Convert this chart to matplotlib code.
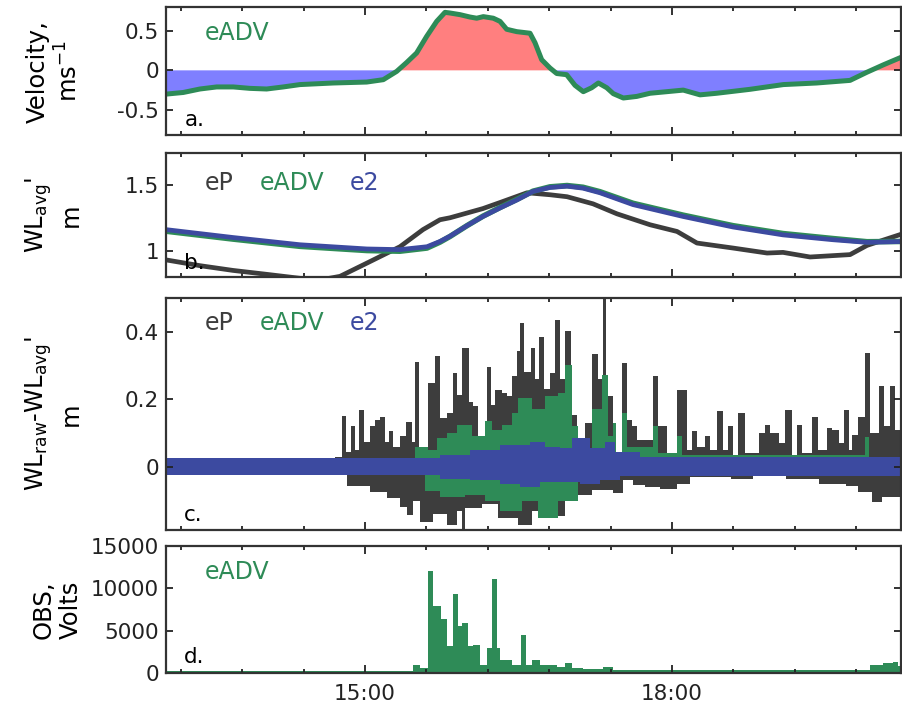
import numpy as np
import matplotlib
matplotlib.use("Agg")
import matplotlib.pyplot as plt
from matplotlib.ticker import FixedLocator, FuncFormatter

plt.rcParams['font.family'] = ['DejaVu Sans']
plt.rcParams['axes.unicode_minus'] = False

# ── colours ──────────────────────────────────────────────────────────────────
C_EP = '#3d3d3d'
C_ADV = '#2e8b57'
C_E2 = '#3c4aa0'
C_POS = '#ff7f7f'
C_NEG = '#7f7fff'

T_START, T_END = 13.055, 20.24   # hours of day

# ── a. velocity (eADV) ───────────────────────────────────────────────────────
vel_t = [13.062, 13.224, 13.387, 13.550, 13.713, 13.876, 14.039, 14.201, 14.365,
         14.690, 15.017, 15.179, 15.310, 15.408, 15.505, 15.603, 15.701, 15.782,
         15.831, 15.929, 16.026, 16.092, 16.157, 16.254, 16.320, 16.385, 16.483,
         16.613, 16.662, 16.727, 16.808, 16.874, 16.971, 17.053, 17.134, 17.216,
         17.281, 17.363, 17.427, 17.525, 17.656, 17.786, 17.949, 18.111, 18.275,
         18.438, 18.763, 19.089, 19.415, 19.741, 19.904, 20.067, 20.249]
vel_v = [-0.30, -0.28, -0.236, -0.21, -0.21, -0.228, -0.236, -0.21, -0.18,
         -0.16, -0.148, -0.118, -0.013, 0.10, 0.22, 0.43, 0.62, 0.734,
         0.726, 0.705, 0.675, 0.66, 0.68, 0.66, 0.62, 0.52, 0.49,
         0.47, 0.35, 0.135, 0.03, -0.04, -0.055, -0.19, -0.27, -0.22,
         -0.16, -0.22, -0.295, -0.35, -0.33, -0.29, -0.27, -0.25, -0.31,
         -0.29, -0.24, -0.18, -0.16, -0.127, -0.025, 0.07, 0.17]

# ── b. averaged water level ──────────────────────────────────────────────────
wl_t_e2 = [13.055, 13.710, 14.365, 15.020, 15.342, 15.606, 15.733, 15.831, 15.997,
           16.153, 16.320, 16.486, 16.642, 16.808, 16.975, 17.131, 17.297, 17.620,
           18.109, 18.597, 19.086, 19.575, 19.907, 20.249]
wl_e2 = [1.16, 1.10, 1.045, 1.013, 1.008, 1.03, 1.07, 1.11, 1.19,
         1.26, 1.325, 1.386, 1.45, 1.48, 1.49, 1.475, 1.44, 1.35,
         1.26, 1.18, 1.12, 1.083, 1.063, 1.07]
wl_adv = [1.148, 1.088, 1.033, 1.001, 0.996, 1.02, 1.065, 1.108, 1.19,
          1.262, 1.328, 1.39, 1.452, 1.485, 1.495, 1.482, 1.448, 1.36,
          1.27, 1.19, 1.13, 1.092, 1.068, 1.07]
wl_t_ep = [13.055, 13.387, 13.710, 14.042, 14.365, 14.580, 14.756, 15.020, 15.342,
           15.567, 15.733, 15.831, 16.153, 16.320, 16.584, 16.808, 16.975, 17.229,
           17.463, 17.786, 18.050, 18.245, 18.597, 18.930, 19.086, 19.350, 19.741,
           19.907, 20.249]
wl_ep = [0.93, 0.886, 0.85, 0.82, 0.79, 0.78, 0.805, 0.906, 1.03,
         1.16, 1.235, 1.25, 1.32, 1.366, 1.44, 1.425, 1.41, 1.356,
         1.28, 1.197, 1.146, 1.058, 1.02, 0.982, 0.987, 0.952, 0.97,
         1.04, 1.127]

# ── c. WL_raw - WL_avg envelopes (step start times, values) ─────────────────
ep_up_t = [13.055, 14.707, 14.775, 14.814, 14.863, 14.902, 14.941, 14.990, 15.049,
           15.098, 15.147, 15.196, 15.235, 15.274, 15.342, 15.401, 15.459, 15.489,
           15.528, 15.616, 15.684, 15.733, 15.802, 15.860, 15.899, 15.948, 16.017,
           16.056, 16.105, 16.193, 16.232, 16.271, 16.339, 16.388, 16.437, 16.486,
           16.515, 16.554, 16.623, 16.662, 16.701, 16.750, 16.808, 16.857, 16.906,
           16.955, 17.014, 17.072, 17.151, 17.219, 17.278, 17.326, 17.355, 17.424,
           17.512, 17.561, 17.610, 17.659, 17.815, 17.864, 17.952, 18.050, 18.148,
           18.196, 18.245, 18.324, 18.372, 18.441, 18.500, 18.548, 18.597, 18.646,
           18.714, 18.851, 18.910, 18.959, 19.047, 19.106, 19.174, 19.223, 19.272,
           19.370, 19.428, 19.516, 19.565, 19.633, 19.682, 19.731, 19.761, 19.819,
           19.888, 19.936, 20.024, 20.073, 20.132, 20.181]
ep_up = [0.012, 0.03, 0.152, 0.045, 0.122, 0.05, 0.169, 0.075, 0.12,
         0.139, 0.149, 0.075, 0.107, 0.06, 0.09, 0.134, 0.075, 0.312,
         0.06, 0.248, 0.327, 0.144, 0.159, 0.278, 0.213, 0.352, 0.193,
         0.18, 0.086, 0.297, 0.184, 0.228, 0.22, 0.21, 0.268, 0.342,
         0.426, 0.282, 0.352, 0.26, 0.386, 0.23, 0.278, 0.436, 0.26,
         0.403, 0.154, 0.075, 0.129, 0.334, 0.26, 0.5, 0.21, 0.045,
         0.307, 0.14, 0.12, 0.08, 0.268, 0.12, 0.036, 0.228, 0.05,
         0.105, 0.06, 0.09, 0.05, 0.164, 0.05, 0.12, 0.03, 0.16,
         0.04, 0.1, 0.124, 0.1, 0.07, 0.169, 0.03, 0.124, 0.04,
         0.149, 0.05, 0.115, 0.11, 0.07, 0.169, 0.05, 0.093, 0.149,
         0.337, 0.1, 0.238, 0.12, 0.238, 0.11]
ep_lo_t = [13.055, 14.707, 14.824, 15.049, 15.215, 15.342, 15.411, 15.469, 15.538,
           15.665, 15.802, 15.899, 15.948, 15.978, 16.144, 16.300, 16.495, 16.632,
           16.759, 16.955, 17.082, 17.219, 17.424, 17.522, 17.620, 17.737, 17.884,
           18.050, 18.177, 18.577, 18.792, 19.115, 19.438, 19.702, 19.819, 19.956,
           20.053]
ep_lo = [-0.012, -0.024, -0.058, -0.073, -0.092, -0.118, -0.142, -0.10, -0.162,
         -0.14, -0.172, -0.13, -0.185, -0.123, -0.11, -0.15, -0.172, -0.13,
         -0.145, -0.093, -0.083, -0.068, -0.078, -0.04, -0.055, -0.06, -0.065,
         -0.05, -0.03, -0.035, -0.025, -0.035, -0.05, -0.058, -0.073, -0.103,
         -0.09]
adv_up_t = [13.055, 15.489, 15.616, 15.704, 15.802, 15.899, 16.046, 16.173, 16.242,
            16.339, 16.437, 16.495, 16.632, 16.759, 16.886, 16.955, 17.023, 17.082,
            17.219, 17.316, 17.375, 17.424, 17.453, 17.512, 17.561, 17.815, 17.864,
            18.050, 18.099, 19.888, 19.927]
adv_up = [0.012, 0.06, 0.05, 0.085, 0.10, 0.124, 0.09, 0.137, 0.11,
          0.125, 0.159, 0.203, 0.17, 0.21, 0.22, 0.302, 0.12, 0.045,
          0.17, 0.272, 0.09, 0.13, 0.045, 0.159, 0.06, 0.12, 0.04,
          0.09, 0.035, 0.087, 0.03]
adv_lo_t = [13.055, 15.587, 15.733, 15.978, 16.173, 16.320, 16.535, 16.691, 16.886,
            17.082, 17.297, 17.424]
adv_lo = [-0.012, -0.07, -0.09, -0.083, -0.1, -0.132, -0.1, -0.15, -0.1,
          -0.043, -0.04, -0.02]
e2_up_t = [13.055, 15.733, 16.026, 16.320, 16.613, 16.759, 16.906, 17.023, 17.199,
           17.346, 17.444, 17.688]
e2_up = [0.025, 0.035, 0.05, 0.065, 0.075, 0.06, 0.055, 0.085, 0.055,
         0.075, 0.045, 0.03]
e2_lo_t = [13.055, 15.733, 16.026, 16.320, 16.515, 16.710, 17.101, 17.297, 17.493]
e2_lo = [-0.025, -0.035, -0.04, -0.05, -0.06, -0.045, -0.05, -0.04, -0.028]

# ── d. OBS (eADV) ───────────────────────────────────────────────────────────
obs_t = [13.055, 15.469, 15.538, 15.616, 15.665, 15.743, 15.802, 15.860, 15.909,
         15.948, 16.007, 16.056, 16.124, 16.193, 16.241, 16.290, 16.320, 16.388,
         16.437, 16.486, 16.525, 16.574, 16.632, 16.711, 16.808, 16.877, 16.955,
         17.023, 17.131, 17.326, 17.424, 19.936, 20.063, 20.161, 20.210]
obs_v = [200, 950, 600, 12060, 7900, 6400, 3130, 9290, 5520,
         5900, 3130, 3300, 950, 2970, 11070, 2970, 1550, 1500,
         950, 950, 4520, 950, 1550, 950, 1000, 700, 1150,
         600, 450, 700, 300, 950, 1150, 1350, 800]


def hhmm(h, _pos=None):
    m = int(round(h * 60))
    return f"{m // 60:02d}:{m % 60:02d}"


fig = plt.figure(figsize=(9.02, 7.15), dpi=100)
L, W = 0.184, 0.815
ax_a = fig.add_axes([L, 0.811, W, 0.179])
ax_b = fig.add_axes([L, 0.6126, W, 0.173])
ax_c = fig.add_axes([L, 0.2587, W, 0.3245])
ax_d = fig.add_axes([L, 0.0587, W, 0.178])
axes = [ax_a, ax_b, ax_c, ax_d]

FS = 15.5      # tick labels, panel letters
FS_LAB = 17.5  # y-axis labels
FS_KEY = 17    # series names

# a.
vt = np.array(vel_t)
vv = np.array(vel_v)
ax_a.fill_between(vt, 0, vv, where=vv >= 0, interpolate=True, color=C_POS, lw=0)
ax_a.fill_between(vt, 0, vv, where=vv <= 0, interpolate=True, color=C_NEG, lw=0)
ax_a.plot(vt, vv, color=C_ADV, lw=3.6, solid_joinstyle='round')
ax_a.set_ylim(-0.82, 0.8)
ax_a.set_yticks([-0.5, 0, 0.5])
ax_a.set_yticklabels(['-0.5', '0', '0.5'])
ax_a.set_ylabel('Velocity,\nms$^{-1}$', fontsize=FS_LAB, linespacing=1.25)
ax_a.text(0.053, 0.797, 'eADV', transform=ax_a.transAxes, color=C_ADV,
          fontsize=FS_KEY, va='center')
ax_a.text(0.025, 0.12, 'a.', transform=ax_a.transAxes, fontsize=FS, va='center')

# b.
ax_b.plot(wl_t_ep, wl_ep, color=C_EP, lw=3.4)
ax_b.plot(wl_t_e2, wl_adv, color=C_ADV, lw=4.0)
ax_b.plot(wl_t_e2, wl_e2, color=C_E2, lw=3.4)
ax_b.set_ylim(0.8, 1.74)
ax_b.set_yticks([1, 1.5])
ax_b.set_yticklabels(['1', '1.5'])
ax_b.set_ylabel("WL$_{\\mathregular{avg}}$'\nm", fontsize=FS_LAB, linespacing=1.25)

# c.
for up_t, up_v, lo_t, lo_v, col in [
        (ep_up_t, ep_up, ep_lo_t, ep_lo, C_EP),
        (adv_up_t, adv_up, adv_lo_t, adv_lo, C_ADV),
        (e2_up_t, e2_up, e2_lo_t, e2_lo, C_E2)]:
    ax_c.stairs(up_v, up_t + [T_END], baseline=0, fill=True, color=col, lw=0)
    ax_c.stairs(lo_v, lo_t + [T_END], baseline=0, fill=True, color=col, lw=0)
ax_c.set_ylim(-0.187, 0.5)
ax_c.set_yticks([0, 0.2, 0.4])
ax_c.set_yticklabels(['0', '0.2', '0.4'])
ax_c.set_ylabel("WL$_{\\mathregular{raw}}$-WL$_{\\mathregular{avg}}$'\nm",
                fontsize=FS_LAB, linespacing=1.25)

for ax, yc in [(ax_b, 0.758), (ax_c, 0.892)]:
    ax.text(0.053, yc, 'eP', transform=ax.transAxes, color=C_EP, fontsize=FS_KEY, va='center')
    ax.text(0.128, yc, 'eADV', transform=ax.transAxes, color=C_ADV, fontsize=FS_KEY, va='center')
    ax.text(0.25, yc, 'e2', transform=ax.transAxes, color=C_E2, fontsize=FS_KEY, va='center')
ax_b.text(0.025, 0.113, 'b.', transform=ax_b.transAxes, fontsize=FS, va='center')
ax_c.text(0.025, 0.065, 'c.', transform=ax_c.transAxes, fontsize=FS, va='center')

# d.
ax_d.stairs(obs_v, obs_t + [T_END], baseline=0, fill=True, color=C_ADV, lw=0)
ax_d.set_ylim(0, 15000)
ax_d.set_yticks([0, 5000, 10000, 15000])
ax_d.set_yticklabels(['0', '5000', '10000', '15000'])
ax_d.set_ylabel('OBS,\nVolts', fontsize=FS_LAB, linespacing=1.15)
ax_d.text(0.053, 0.795, 'eADV', transform=ax_d.transAxes, color=C_ADV,
          fontsize=FS_KEY, va='center')
ax_d.text(0.025, 0.126, 'd.', transform=ax_d.transAxes, fontsize=FS, va='center')

# ── shared styling ──────────────────────────────────────────────────────────
minor = [13.2 + 0.6 * k for k in range(12)]
for ax in axes:
    ax.set_xlim(T_START, T_END)
    ax.xaxis.set_major_locator(FixedLocator([15, 18]))
    ax.xaxis.set_minor_locator(FixedLocator([m for m in minor if m not in (15.0, 18.0)]))
    ax.xaxis.set_major_formatter(FuncFormatter(hhmm))
    ax.tick_params(axis='both', which='both', direction='in', top=True, right=True,
                   labelsize=FS, colors='#222222', width=1.3)
    ax.tick_params(axis='x', which='major', length=6, pad=8)
    ax.tick_params(axis='x', which='minor', length=3)
    ax.tick_params(axis='y', which='major', length=5, pad=5)
    for s in ax.spines.values():
        s.set_color('#333333')
        s.set_linewidth(1.6)
    ax.yaxis.set_label_coords(-0.113, 0.5)
    if ax is not ax_d:
        ax.tick_params(axis='x', labelbottom=False)

fig.savefig('out.png', dpi=100, facecolor='white')
